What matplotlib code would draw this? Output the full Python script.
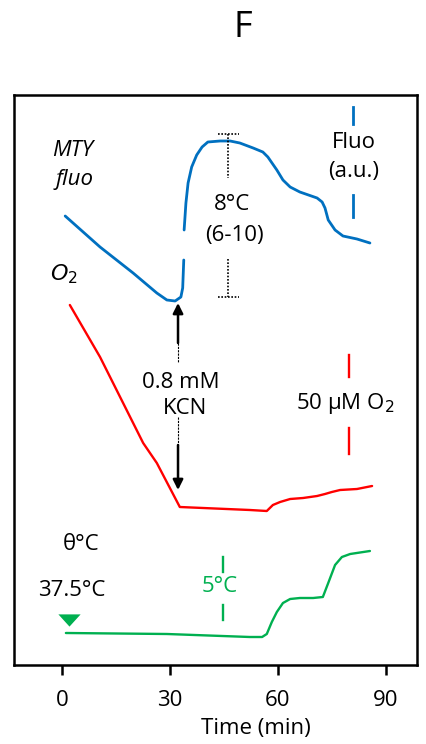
import numpy as np
import matplotlib
matplotlib.use('Agg')
import matplotlib.pyplot as plt

plt.rcParams['font.family'] = ['Open Sans', 'DejaVu Sans']

BLUE = '#0070C0'
RED = '#FF0000'
GREEN = '#00B050'

# MTY fluorescence trace (a.u.), NaN marks the break at the KCN addition
mty_t = [0.8, 10.5, 19.7, 26.3, 29.1, 31.4, 33.0, 33.5, 33.8, np.nan,
         33.9, 34.4, 35.0, 36.0, 37.4, 38.9, 40.5, 43.9, 46.7, 49.4, 53.1,
         55.8, 57.2, 59.7, 61.4, 63.4, 66.1, 70.9, 72.3, 73.1, 74.0, 75.9,
         78.1, 82.0, 85.6]
mty_v = [449, 418, 392, 372, 365, 364, 368, 377, 405, np.nan,
         435, 462, 482, 498, 510, 518, 523, 524, 524, 522, 517,
         513, 508, 495, 485, 478, 473, 467, 463, 457, 445, 435,
         429, 426, 422]

# O2 trace
o2_t = [2.1, 10.5, 22.5, 26.3, 32.7, 52.2, 56.9, 58.6, 60.6, 63.4, 67.0,
        70.9, 73.1, 75.0, 77.3, 82.0, 86.2]
o2_v = [360, 308, 222, 202, 158, 155, 154, 160, 163, 166, 167,
        169, 171, 173, 175, 176, 179]

# temperature trace
temp_t = [1.0, 29.1, 52.2, 55.6, 56.9, 58.3, 59.7, 61.4, 63.4, 66.1, 69.8,
          72.5, 74.0, 75.9, 77.8, 80.1, 85.6]
temp_v = [32, 31, 28, 28, 31, 43, 53, 62, 66, 67, 67,
          68, 82, 100, 108, 111, 114]

x_ticks = [0, 30, 60, 90]

fig = plt.figure(figsize=(4.26, 7.44), dpi=100)
ax = fig.add_axes([14 / 426, 79 / 744, 403 / 426, 570 / 744])
ax.set_xlim(-13.44, 98.7)
ax.set_ylim(0, 570)

line_kw = dict(solid_joinstyle='round', solid_capstyle='round')
ax.plot(mty_t, mty_v, color=BLUE, lw=2.0, **line_kw)
ax.plot(o2_t, o2_v, color=RED, lw=1.7, **line_kw)
ax.plot(temp_t, temp_v, color=GREEN, lw=1.7, **line_kw)

# 37.5 degC start marker
tri = [(-1, 0.55), (1, 0.55), (0, -0.55)]
ax.plot([1.9], [45], marker=tri, ms=16, color=GREEN, markeredgewidth=0)

fs = 16
ax.text(3.0, 515, 'MTY', style='italic', fontsize=fs, ha='center', va='center')
ax.text(3.5, 485, 'fluo', style='italic', fontsize=fs, ha='center', va='center')
ax.text(0.5, 391, '$\\mathit{O_2}$', fontsize=fs, ha='center', va='center')

# 8 degC scale bar
dot = dict(color='k', lw=1.2, ls=(0, (1, 1)))
ax.text(47.2, 461, '8°C', fontsize=fs, ha='center', va='center')
ax.text(48.0, 430, '(6-10)', fontsize=fs, ha='center', va='center')
ax.plot([46.1, 46.1], [531, 487], **dot)
ax.plot([46.1, 46.1], [406, 368], **dot)
ax.plot([43.3, 49.2], [531, 531], **dot)
ax.plot([43.3, 49.2], [368, 368], **dot)

# fluorescence scale
ax.text(81.2, 522, 'Fluo', fontsize=fs, ha='center', va='center')
ax.text(81.2, 493, '(a.u.)', fontsize=fs, ha='center', va='center')
ax.plot([80.9, 80.9], [558, 541], color=BLUE, lw=2.0)
ax.plot([80.9, 80.9], [470, 448], color=BLUE, lw=2.0)

# KCN addition
arrow_kw = dict(arrowstyle='-|>', color='k', lw=1.8, mutation_scale=15, shrinkA=0, shrinkB=0)
ax.text(33.0, 282, '0.8 mM', fontsize=fs, ha='center', va='center')
ax.text(34.1, 256, 'KCN', fontsize=fs, ha='center', va='center')
ax.annotate('', xy=(32.2, 362), xytext=(32.2, 322), arrowprops=arrow_kw)
ax.plot([32.2, 32.2], [322, 303], color='k', lw=0.8, ls=(0, (2, 1)))
ax.annotate('', xy=(32.2, 175), xytext=(32.2, 220), arrowprops=arrow_kw)
ax.plot([32.2, 32.2], [248, 220], color='k', lw=0.8, ls=(0, (2, 1)))

# O2 scale
ax.text(78.7, 261, '50 µM O$_2$', fontsize=fs, ha='center', va='center')
ax.plot([79.8, 79.8], [310, 288], color=RED, lw=1.7)
ax.plot([79.8, 79.8], [237, 211], color=RED, lw=1.7)

# temperature labels and scale
ax.text(5.2, 121, 'θ°C', fontsize=fs, ha='center', va='center')
ax.text(2.7, 74, '37.5°C', fontsize=fs, ha='center', va='center')
ax.text(43.9, 78, '5°C', fontsize=fs, ha='center', va='center', color=GREEN)
ax.plot([44.7, 44.7], [108, 93], color=GREEN, lw=1.7)
ax.plot([44.7, 44.7], [60, 45], color=GREEN, lw=1.7)

for s in ax.spines.values():
    s.set_linewidth(1.8)
ax.set_yticks([])
ax.set_xticks(x_ticks)
ax.tick_params(axis='x', direction='out', length=7, width=1.8, pad=11, labelsize=fs)
ax.set_xlabel('Time (min)', fontsize=fs, labelpad=5, x=0.6)

fig.text(243 / 426, 1 - 28 / 744, 'F', fontsize=26, ha='center', va='center')

fig.savefig('out.png', dpi=100)
